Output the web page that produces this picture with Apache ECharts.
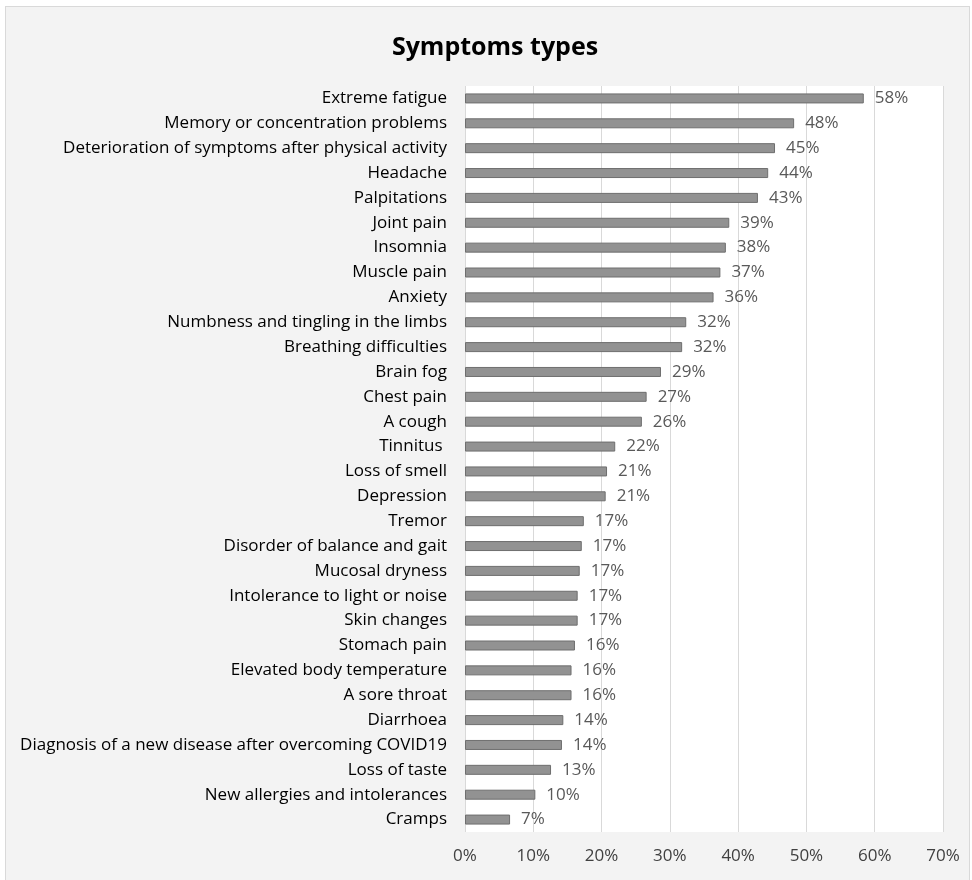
<!DOCTYPE html>
<html>
<head>
<meta charset="utf-8">
<script src="https://cdn.jsdelivr.net/npm/echarts@6/dist/echarts.min.js"></script>
<style>
html,body{margin:0;padding:0;background:#fff;}
#wrap{position:absolute;left:5px;top:6px;width:965px;height:880px;background:#f3f3f3;border:1px solid #d9d9d9;box-sizing:border-box;}
#chart{position:absolute;left:0;top:0;width:972px;height:880px;}
</style>
</head>
<body>
<div id="wrap"></div>
<div id="chart"></div>
<script>
var symptoms = ['Extreme fatigue', 'Memory or concentration problems', 'Deterioration of symptoms after physical activity',
  'Headache', 'Palpitations', 'Joint pain', 'Insomnia', 'Muscle pain', 'Anxiety', 'Numbness and tingling in the limbs',
  'Breathing difficulties', 'Brain fog', 'Chest pain', 'A cough', 'Tinnitus ', 'Loss of smell', 'Depression', 'Tremor',
  'Disorder of balance and gait', 'Mucosal dryness', 'Intolerance to light or noise', 'Skin changes', 'Stomach pain',
  'Elevated body temperature', 'A sore throat', 'Diarrhoea', 'Diagnosis of a new disease after overcoming COVID19',
  'Loss of taste', 'New allergies and intolerances', 'Cramps'];
var shares = [58.4, 48.2, 45.4, 44.4, 42.9, 38.7, 38.2, 37.4, 36.4, 32.4,
  31.8, 28.7, 26.6, 25.9, 22.0, 20.8, 20.6, 17.4,
  17.1, 16.8, 16.5, 16.5, 16.1,
  15.6, 15.6, 14.4, 14.2,
  12.6, 10.3, 6.6];
var xTicks = [0, 10, 20, 30, 40, 50, 60, 70];

var chart = echarts.init(document.getElementById('chart'));
var font = '"Open Sans", sans-serif';
chart.setOption({
  animation: false,
  title: {
    text: 'Symptoms types',
    left: 490, top: 30, textAlign: 'center',
    textStyle: {fontFamily: font, fontWeight: 'bold', fontSize: 25, color: '#000'}
  },
  grid: {left: 465, right: 29, top: 86, bottom: 48, show: true, backgroundColor: '#fff', borderWidth: 0},
  xAxis: {
    type: 'value', min: 0, max: 70, interval: 10,
    axisLine: {show: false}, axisTick: {show: false},
    splitLine: {lineStyle: {color: '#d9d9d9', width: 1}},
    axisLabel: {margin: 16, fontSize: 17, color: '#404040', fontFamily: font,
      formatter: function (v) { return xTicks.indexOf(v) >= 0 ? v + '%' : ''; }}
  },
  yAxis: {
    type: 'category', inverse: true, data: symptoms,
    axisLine: {show: false}, axisTick: {show: false},
    axisLabel: {margin: 18, fontSize: 17, color: '#000', fontFamily: font}
  },
  series: [{
    type: 'bar', data: shares, barWidth: 10,
    itemStyle: {color: '#929292', borderColor: '#6e6e6e', borderWidth: 1},
    label: {show: true, position: 'right', distance: 11, fontSize: 17, color: '#595959', fontFamily: font,
      formatter: function (p) { return Math.round(p.value) + '%'; }}
  }]
});
</script>
</body>
</html>
